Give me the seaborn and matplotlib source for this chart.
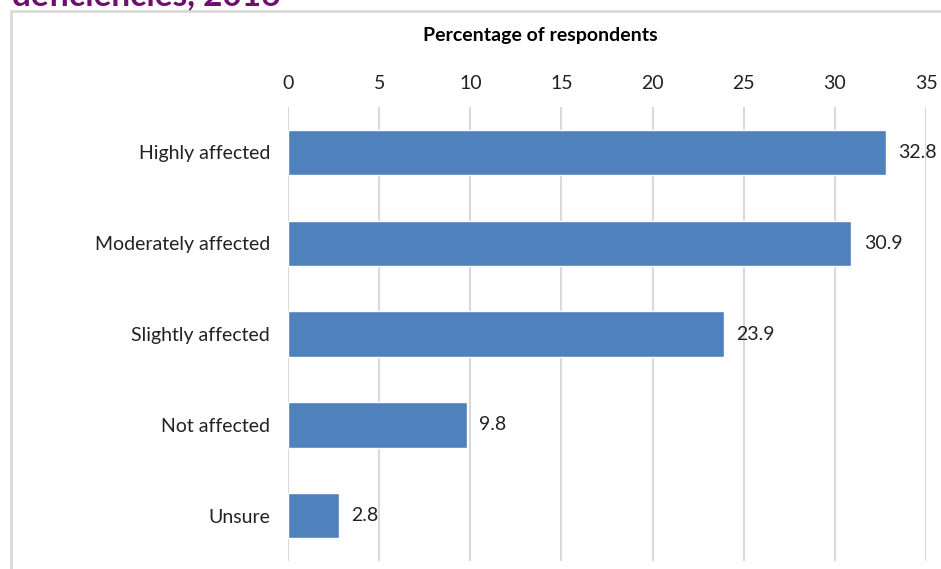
import matplotlib
matplotlib.use("Agg")
import matplotlib.pyplot as plt
import seaborn as sns
import pandas as pd
from matplotlib.patches import Rectangle

categories = ["Highly affected", "Moderately affected", "Slightly affected", "Not affected", "Unsure"]
values = [32.8, 30.9, 23.9, 9.8, 2.8]
x_ticks = [0, 5, 10, 15, 20, 25, 30, 35]

sns.set_theme(style="white")
plt.rcParams['font.family'] = ['Lato', 'DejaVu Sans']

df = pd.DataFrame({"category": categories, "value": values})

fig = plt.figure(figsize=(9.41, 5.69), dpi=100)
W, H = 941, 569
ax = fig.add_axes([288 / W, (H - 561) / H, (926 - 288) / W, (561 - 107) / H])

sns.barplot(data=df, x="value", y="category", orient="h", color="#4F81BD",
            saturation=1, width=0.5, ax=ax, zorder=3)

ax.set_xlim(0, 35)
ax.set_xticks(x_ticks)
ax.xaxis.tick_top()
ax.set_xlabel("")
ax.set_ylabel("")
ax.tick_params(axis="x", length=0, labelsize=14, colors="#222222", pad=11)
ax.tick_params(axis="y", length=0, labelsize=14, colors="#222222", pad=13)
ax.grid(axis="x", color="#D9D9D9", linewidth=1.5, zorder=0)
ax.grid(axis="y", visible=False)
for s in ax.spines.values():
    s.set_visible(False)

for c in ax.containers:
    ax.bar_label(c, labels=[f"{v:.1f}" for v in values], padding=9, fontsize=14, color="#222222")

# axis title (centred on the chart area)
fig.text(540 / W, (H - 35) / H, "Percentage of respondents", fontsize=14, fontweight="bold",
         color="#000000", ha="center", va="center")

# chart border
fig.patches.append(Rectangle((11 / W, -0.05), 1.0, (H - 11) / H + 0.05, transform=fig.transFigure,
                             fill=False, edgecolor="#D9D9D9", linewidth=2, zorder=0))
# cut-off title
fig.text(12 / W, (H - 5) / H, "deficiencies, 2016", fontsize=24, fontweight="bold",
         color="#6E0F6E", ha="left", va="baseline")

fig.savefig("out.png", dpi=100)
